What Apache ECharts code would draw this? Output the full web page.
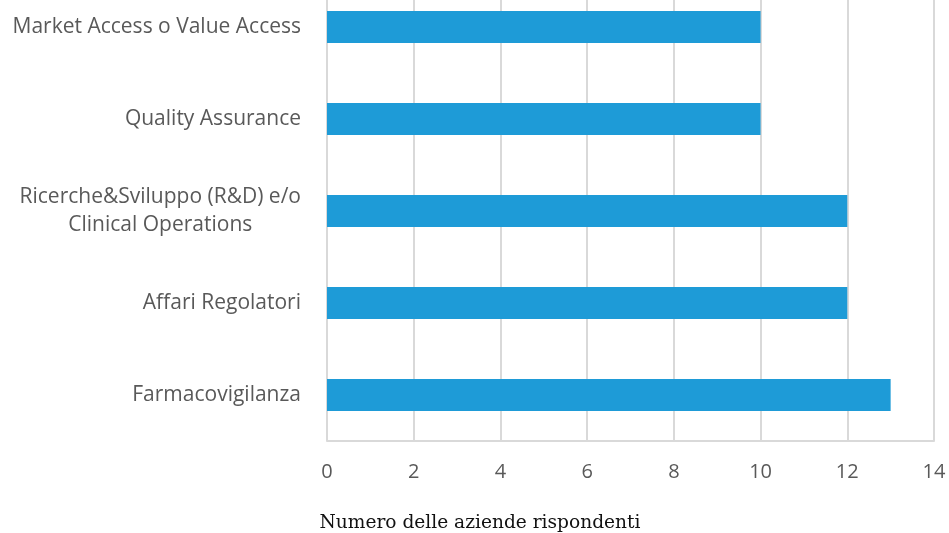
<!DOCTYPE html>
<html>
<head>
<meta charset="utf-8">
<script src="https://cdn.jsdelivr.net/npm/echarts@6/dist/echarts.min.js"></script>
<style>
  html, body { margin: 0; padding: 0; background: #fff; }
  #chart { width: 949px; height: 533px; }
</style>
</head>
<body>
<div id="chart"></div>
<script>
// bottom to top, as the y axis lists them
const categories = [
  'Farmacovigilanza',
  'Affari Regolatori',
  'Ricerche&Sviluppo (R&D) e/o\nClinical Operations',
  'Quality Assurance',
  'Market Access o Value Access'
];
const values = [13, 12, 12, 10, 10];
const xTicks = [0, 2, 4, 6, 8, 10, 12, 14];

const chart = echarts.init(document.getElementById('chart'));

chart.setOption({
  animation: false,
  backgroundColor: '#fff',
  title: {
    text: 'Numero delle aziende rispondenti',
    left: 475,
    top: 509,
    textAlign: 'center',
    textStyle: { fontFamily: 'DejaVu Serif', fontSize: 18.6, fontWeight: 'normal', color: '#111' }
  },
  // top of the plot is cut off in the original, so the grid runs above the page
  grid: { left: 327, right: 15, top: -19, bottom: 92, outerBoundsMode: 'none' },
  xAxis: {
    type: 'value',
    min: xTicks[0],
    max: xTicks[xTicks.length - 1],
    interval: 2,
    axisLine: { show: true, lineStyle: { color: '#d9d9d9', width: 2 } },
    axisTick: { show: false },
    splitLine: { lineStyle: { color: '#d9d9d9', width: 2 } },
    axisLabel: { margin: 21, color: '#595959', fontFamily: 'Open Sans', fontSize: 20 }
  },
  yAxis: {
    type: 'category',
    data: categories,
    axisLine: { show: false },
    axisTick: { show: false },
    axisLabel: {
      margin: 26,
      lineHeight: 28,
      formatter: v => v.split('\n').map(l => '{c|' + l + '}').join('\n'),
      rich: { c: { align: 'center', color: '#595959', fontFamily: 'Open Sans', fontSize: 21, lineHeight: 28 } }
    }
  },
  series: [{
    type: 'bar',
    data: values,
    barWidth: 32,
    itemStyle: { color: '#1e9bd7' }
  }]
});
</script>
</body>
</html>
